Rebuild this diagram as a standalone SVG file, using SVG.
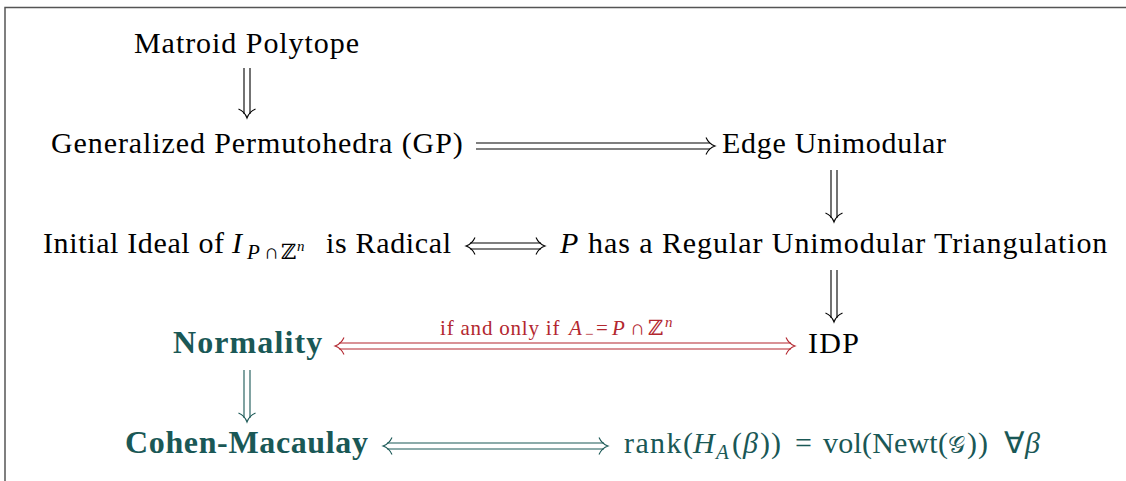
<svg xmlns="http://www.w3.org/2000/svg" width="1126" height="481" viewBox="0 0 1126 481">
<defs>
<style>
text { font-size: 30px; fill: #000; }
.it { font-style: italic; }
.b { font-weight: bold; fill: #1a5856; font-size: 32px; }
.teal { fill: #1a5856; }
.sub { font-size: 21px; }
.sup { font-size: 15px; }
.lbl { font-size: 21px; fill: #b3272f; }
.lsub { font-size: 15px; fill: #b3272f; }
.rail { fill: none; stroke-width: 1.1; }
.k { stroke: #000; }
.r { stroke: #b3272f; }
.t { stroke: #1a5856; }
.axis { fill: none; stroke: none; }
.frame { fill: none; stroke: #555; stroke-width: 1.5; }
</style>
<marker id="hk" markerUnits="userSpaceOnUse" viewBox="-11 -10 13 20" refX="0" refY="0" markerWidth="13" markerHeight="20" orient="auto-start-reverse" overflow="visible">
<path d="M -9,-8.5 C -7,-4 -3,-1 0,0 C -3,1 -7,4 -9,8.5" fill="none" stroke="#000" stroke-width="1.1"/>
</marker>
<marker id="hr" markerUnits="userSpaceOnUse" viewBox="-11 -10 13 20" refX="0" refY="0" markerWidth="13" markerHeight="20" orient="auto-start-reverse" overflow="visible">
<path d="M -9,-8.5 C -7,-4 -3,-1 0,0 C -3,1 -7,4 -9,8.5" fill="none" stroke="#b3272f" stroke-width="1.1"/>
</marker>
<marker id="ht" markerUnits="userSpaceOnUse" viewBox="-11 -10 13 20" refX="0" refY="0" markerWidth="13" markerHeight="20" orient="auto-start-reverse" overflow="visible">
<path d="M -9,-8.5 C -7,-4 -3,-1 0,0 C -3,1 -7,4 -9,8.5" fill="none" stroke="#1a5856" stroke-width="1.1"/>
</marker>
</defs>
<rect width="1126" height="481" fill="#fff"/>
<path class="frame" d="M 5,481 V 7.5 H 1126"/>

<g id="connectors">
  <g id="e-matroid-gp">
    <path class="rail k" d="M 244,68 V 114 M 250,68 V 114"/>
    <path class="axis" d="M 247,68 V 118" marker-end="url(#hk)"/>
  </g>
  <g id="e-gp-edge">
    <path class="rail k" d="M 476,143 H 710 M 476,149 H 710"/>
    <path class="axis" d="M 476,146 H 715" marker-end="url(#hk)"/>
  </g>
  <g id="e-edge-rut">
    <path class="rail k" d="M 831,170 V 218 M 837,170 V 218"/>
    <path class="axis" d="M 834,170 V 222" marker-end="url(#hk)"/>
  </g>
  <g id="e-ideal-rut">
    <path class="rail k" d="M 470,243 H 541 M 470,249 H 541"/>
    <path class="axis" d="M 466,246 H 545" marker-start="url(#hk)" marker-end="url(#hk)"/>
  </g>
  <g id="e-rut-idp">
    <path class="rail k" d="M 831,270 V 318 M 837,270 V 318"/>
    <path class="axis" d="M 834,270 V 322" marker-end="url(#hk)"/>
  </g>
  <g id="e-normality-idp">
    <path class="rail r" d="M 339,343 H 791 M 339,349 H 791"/>
    <path class="axis" d="M 335,346 H 795" marker-start="url(#hr)" marker-end="url(#hr)"/>
    <text x="440" y="335" class="lbl" font-family="Liberation Serif" letter-spacing="0.8">if and only if</text>
    <text x="569" y="335" class="lbl it" font-family="Liberation Serif">A</text>
    <text x="585" y="339" class="lsub" font-family="Liberation Serif">−</text>
    <text x="596" y="335" class="lbl" font-family="Liberation Serif">=</text>
    <text x="612" y="335" class="lbl it" font-family="Liberation Serif">P</text>
    <text x="630" y="335" class="lbl" font-family="Liberation Serif">∩</text>
    <text x="648" y="335" class="lbl" font-family="DejaVu Serif">ℤ</text>
    <text x="665" y="327" class="lsub it" font-family="Liberation Serif">n</text>
  </g>
  <g id="e-normality-cm">
    <path class="rail t" d="M 244,370 V 418 M 250,370 V 418"/>
    <path class="axis" d="M 247,370 V 422" marker-end="url(#ht)"/>
  </g>
  <g id="e-cm-rank">
    <path class="rail t" d="M 387,443 H 604 M 387,449 H 604"/>
    <path class="axis" d="M 383,446 H 608" marker-start="url(#ht)" marker-end="url(#ht)"/>
  </g>
</g>

<g id="n-matroid">
  <text x="134" y="53" font-family="Liberation Serif" letter-spacing="0.95">Matroid Polytope</text>
</g>
<g id="n-gp">
  <text x="51" y="153" font-family="Liberation Serif" letter-spacing="0.9">Generalized Permutohedra (GP)</text>
</g>
<g id="n-edge">
  <text x="722" y="153" font-family="Liberation Serif" letter-spacing="0.7">Edge Unimodular</text>
</g>
<g id="n-ideal">
  <text x="43" y="253" font-family="Liberation Serif" letter-spacing="0.63">Initial Ideal of</text>
  <text x="232" y="253" class="it" font-family="Liberation Serif">I</text>
  <text x="247" y="259" class="sub it" font-family="Liberation Serif">P</text>
  <text x="264" y="259" class="sub" font-family="Liberation Serif">∩</text>
  <text x="281" y="259" class="sub" font-family="DejaVu Serif">ℤ</text>
  <text x="297" y="251" class="sup it" font-family="Liberation Serif">n</text>
  <text x="326" y="253" font-family="Liberation Serif" letter-spacing="0.66">is Radical</text>
</g>
<g id="n-rut">
  <text x="560" y="253" class="it" font-family="Liberation Serif">P</text>
  <text x="588" y="253" font-family="Liberation Serif" letter-spacing="0.93">has a Regular Unimodular Triangulation</text>
</g>
<g id="n-normality">
  <text x="173" y="353" class="b" font-family="Liberation Serif" letter-spacing="1.1">Normality</text>
</g>
<g id="n-idp">
  <text x="808" y="353" font-family="Liberation Serif" letter-spacing="1.3">IDP</text>
</g>
<g id="n-cm">
  <text x="125" y="453" class="b" font-family="Liberation Serif" letter-spacing="0.64">Cohen-Macaulay</text>
</g>
<g id="n-rank">
  <text x="624" y="453" class="teal" font-family="Liberation Serif" letter-spacing="1.4">rank(</text>
  <text x="693" y="453" class="teal it" font-family="Liberation Serif">H</text>
  <text x="716" y="459" class="teal sub it" font-family="Liberation Serif">A</text>
  <text x="732" y="453" class="teal" font-family="Liberation Serif">(</text>
  <text x="743" y="453" class="teal it" font-family="Liberation Serif">β</text>
  <text x="760" y="453" class="teal" font-family="Liberation Serif" letter-spacing="1">))</text>
  <text x="795" y="453" class="teal" font-family="Liberation Serif">=</text>
  <text x="823" y="453" class="teal" font-family="Liberation Serif" letter-spacing="0.2">vol(Newt(</text>
  <text x="948" y="453" class="teal" font-family="DejaVu Sans" style="font-size:24px">𝒢</text>
  <text x="967" y="453" class="teal" font-family="Liberation Serif" letter-spacing="1">))</text>
  <text x="1004" y="453" class="teal" font-family="Liberation Serif">∀</text>
  <text x="1025" y="453" class="teal it" font-family="Liberation Serif">β</text>
</g>
</svg>
